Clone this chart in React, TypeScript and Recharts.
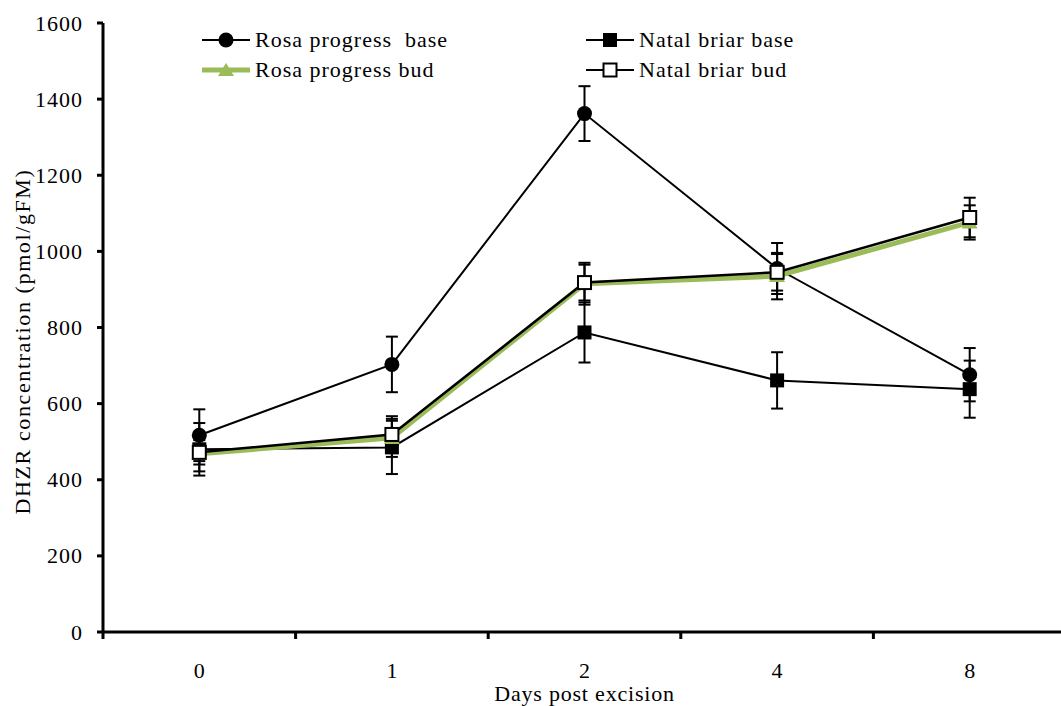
import { LineChart, Line, XAxis, YAxis, ErrorBar, Legend } from "recharts"

const days = ["0", "1", "2", "4", "8"]

const rosaBase = [517, 703, 1362, 955, 676]
const rosaBaseErr = [68, 73, 72, 67, 70]
const natalBase = [480, 485, 787, 661, 638]
const natalBaseErr = [69, 70, 79, 74, 75]
const rosaBud = [468, 510, 915, 935, 1076]
const rosaBudErr = [46, 50, 55, 61, 45]
const natalBud = [472, 519, 918, 945, 1089]
const natalBudErr = [32, 48, 47, 48, 52]

const yTicks = [0, 200, 400, 600, 800, 1000, 1200, 1400, 1600]
const xTicks = [-0.5, 0, 0.5, 1, 1.5, 2, 2.5, 3, 3.5, 4, 4.5]

const green = "#9bbb59"
const font = "'Liberation Serif', 'Times New Roman', serif"

const chartData = days.map((d, i) => ({
  x: i,
  rosaBase: rosaBase[i],
  rosaBaseErr: rosaBaseErr[i],
  natalBase: natalBase[i],
  natalBaseErr: natalBaseErr[i],
  rosaBud: rosaBud[i],
  rosaBudErr: rosaBudErr[i],
  natalBud: natalBud[i],
  natalBudErr: natalBudErr[i],
}))

type Kind = "circle" | "square" | "triangle" | "open"

function Marker({ kind, cx, cy }: { kind: Kind; cx: number; cy: number }) {
  if (kind === "circle") return <circle cx={cx} cy={cy} r={7.5} fill="#000" />
  if (kind === "square") return <rect x={cx - 7} y={cy - 7} width={14} height={14} fill="#000" />
  if (kind === "triangle")
    return <polygon points={`${cx - 8},${cy + 6} ${cx + 8},${cy + 6} ${cx},${cy - 7}`} fill={green} />
  return <rect x={cx - 6.5} y={cy - 6.5} width={13} height={13} fill="#fff" stroke="#000" strokeWidth={2} />
}

const dotFor = (kind: Kind) => (props: any) =>
  <Marker key={`${kind}-${props.index}`} kind={kind} cx={props.cx} cy={props.cy} />

function XTick(props: any) {
  const { x, y, payload } = props
  const v = payload.value
  if (Number.isInteger(v)) {
    return (
      <text x={x} y={y + 46} textAnchor="middle" fontSize={22} fontFamily={font} fill="#000">
        {days[v]}
      </text>
    )
  }
  return <line x1={x} y1={y} x2={x} y2={y + 7} stroke="#000" strokeWidth={3} />
}

function YTick(props: any) {
  const { x, y, payload } = props
  return (
    <text
      x={x}
      y={y}
      textAnchor="end"
      dominantBaseline="central"
      fontSize={22}
      fontFamily={font}
      letterSpacing={1}
      fill="#000"
    >
      {payload.value}
    </text>
  )
}

function YTitle(props: any) {
  const vb = props.viewBox
  const cy = vb.y + vb.height / 2 + 14
  return (
    <text
      x={22}
      y={cy}
      transform={`rotate(-90, 22, ${cy})`}
      textAnchor="middle"
      dominantBaseline="central"
      fontSize={22}
      letterSpacing={1.6}
      fontFamily={font}
      fill="#000"
    >
      DHZR concentration (pmol/gFM)
    </text>
  )
}

function XTitle(props: any) {
  const vb = props.viewBox
  const cx = vb.x + vb.width / 2
  return (
    <text x={cx} y={701} textAnchor="middle" fontSize={22} letterSpacing={0.8} fontFamily={font} fill="#000">
      Days post excision
    </text>
  )
}

const legendItems: { name: string; kind: Kind }[] = [
  { name: "Rosa progress  base", kind: "circle" },
  { name: "Natal briar base", kind: "square" },
  { name: "Rosa progress bud", kind: "triangle" },
  { name: "Natal briar bud", kind: "open" },
]

function LegendBox() {
  return (
    <div
      style={{
        position: "relative",
        width: 640,
        height: 60,
        fontFamily: font,
        fontSize: 22,
        letterSpacing: 1,
      }}
    >
      {legendItems.map((item, i) => {
        const col = i % 2
        const row = Math.floor(i / 2)
        return (
          <div
            key={item.name}
            style={{
              position: "absolute",
              left: col === 0 ? 0 : 384,
              top: row * 30,
              height: 30,
              display: "flex",
              alignItems: "center",
              whiteSpace: "pre",
            }}
          >
            <svg width={50} height={20} style={{ marginRight: 4 }}>
              <line
                x1={1}
                y1={10}
                x2={49}
                y2={10}
                stroke={item.kind === "triangle" ? green : "#000"}
                strokeWidth={item.kind === "triangle" ? 5 : 2}
              />
              <Marker kind={item.kind} cx={25} cy={10} />
            </svg>
            <span style={{ color: "#000" }}>{item.name}</span>
          </div>
        )
      })}
    </div>
  )
}

export default function App() {
  return (
    <div style={{ position: "absolute", left: 0, top: 0, background: "#fff", fontFamily: font }}>
      <LineChart
        width={1070}
        height={706}
        data={chartData}
        margin={{ top: 23, right: 4, left: 0, bottom: 0 }}
        style={{ fontFamily: font }}
      >
        <XAxis
          dataKey="x"
          type="number"
          domain={[-0.5, 4.5]}
          ticks={xTicks}
          interval={0}
          height={74}
          tickSize={0}
          tickMargin={0}
          tickLine={false}
          tick={<XTick />}
          axisLine={{ stroke: "#000", strokeWidth: 3 }}
          label={<XTitle />}
        />
        <YAxis
          domain={[0, 1600]}
          ticks={yTicks}
          width={103}
          tickSize={6}
          tickMargin={14}
          axisLine={{ stroke: "#000", strokeWidth: 3 }}
          tickLine={{ stroke: "#000", strokeWidth: 3 }}
          tick={<YTick />}
          label={<YTitle />}
        />
        <Legend
          layout="horizontal"
          verticalAlign="middle"
          align="center"
          wrapperStyle={{ position: "absolute", top: 25, left: 201, width: 640 }}
          content={() => <LegendBox />}
        />
        <Line
          dataKey="natalBase"
          stroke="#000"
          strokeWidth={2}
          dot={dotFor("square")}
          activeDot={false}
          isAnimationActive={false}
        >
          <ErrorBar dataKey="natalBaseErr" direction="y" width={6} stroke="#000" strokeWidth={2} />
        </Line>
        <Line
          dataKey="rosaBase"
          stroke="#000"
          strokeWidth={2}
          dot={dotFor("circle")}
          activeDot={false}
          isAnimationActive={false}
        >
          <ErrorBar dataKey="rosaBaseErr" direction="y" width={6} stroke="#000" strokeWidth={2} />
        </Line>
        <Line
          dataKey="rosaBud"
          stroke={green}
          strokeWidth={5}
          dot={dotFor("triangle")}
          activeDot={false}
          isAnimationActive={false}
        >
          <ErrorBar dataKey="rosaBudErr" direction="y" width={6} stroke="#000" strokeWidth={2} />
        </Line>
        <Line
          dataKey="natalBud"
          stroke="#000"
          strokeWidth={2.5}
          dot={dotFor("open")}
          activeDot={false}
          isAnimationActive={false}
        >
          <ErrorBar dataKey="natalBudErr" direction="y" width={6} stroke="#000" strokeWidth={2} />
        </Line>
      </LineChart>
    </div>
  )
}
